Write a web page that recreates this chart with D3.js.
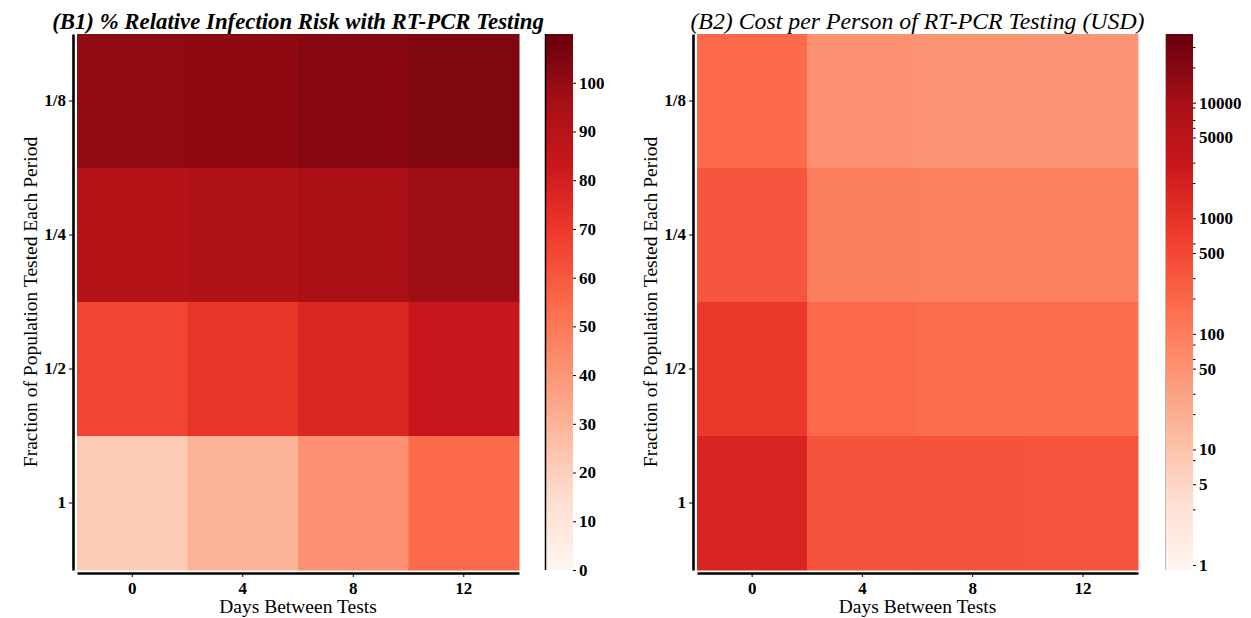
<!DOCTYPE html>
<html><head><meta charset="utf-8">
<script src="https://cdn.jsdelivr.net/npm/d3@7"></script>
<style>body{margin:0;background:#fff}svg{display:block}</style>
</head><body><svg id="c" width="1251" height="618"></svg>
<script>
const days = [0, 4, 8, 12];
const fractions = ["1/8", "1/4", "1/2", "1"];
// % relative infection risk, rows = fractions, cols = days
const risk_1_8 = [100.9, 101.3, 102.6, 104.5];
const risk_1_4 = [90.8, 92.3, 94.5, 97.6];
const risk_1_2 = [66, 71.4, 76.8, 83.6];
const risk_1 = [22, 30, 42, 55];
// cost per person (USD)
const cost_1_8 = [188, 50, 47, 45];
const cost_1_4 = [330, 97, 95, 93];
const cost_1_2 = [800, 193, 170, 170];
const cost_1 = [1750, 361, 350, 340];
const riskTicks = [0, 10, 20, 30, 40, 50, 60, 70, 80, 90, 100];
const costTicks = [1, 5, 10, 50, 100, 500, 1000, 5000, 10000];
const costMinor = [3, 8, 20, 30, 60, 80, 200, 300, 600, 2000, 3000, 6000, 7000, 9000, 20000, 30000];
const riskDomain = [0, 110];
const costDomain = [0.905, 39300];

const redsColors = ["#fff5f0","#fee0d2","#fcbba1","#fc9272","#fb6a4a","#ef3b2c","#cb181d","#a50f15","#67000d"];
const reds = d3.scaleLinear().domain(d3.range(9).map(i => i / 8)).range(redsColors).interpolate(d3.interpolateRgb).clamp(true);

const svg = d3.select("#c");
const serif = "'Liberation Serif','Times New Roman',serif";

const defs = svg.append("defs");
const grad = defs.append("linearGradient").attr("id", "redsGrad").attr("x1", 0).attr("y1", 1).attr("x2", 0).attr("y2", 0);
redsColors.forEach((c, i) => grad.append("stop").attr("offset", i / 8).attr("stop-color", c));

function panel(o) {
  const g = svg.append("g");
  const x = d3.scaleBand().domain(days).range([o.x0, o.x1]);
  const y = d3.scaleBand().domain(fractions).range([34, 570]);
  const color = v => reds(o.norm(v));
  const cells = [];
  o.rows.forEach((row, r) => row.forEach((v, c) => cells.push({ f: fractions[r], d: days[c], v })));
  g.selectAll("rect.cell").data(cells).join("rect").attr("class", "cell")
    .attr("x", d => x(d.d)).attr("y", d => y(d.f))
    .attr("width", x.bandwidth() + 0.5).attr("height", y.bandwidth() + 0.5)
    .attr("fill", d => color(d.v));

  const ya = g.append("g").attr("transform", `translate(${o.x0 - 4},0)`)
    .call(d3.axisLeft(y).tickSize(4).tickPadding(3).tickSizeOuter(0));
  const xa = g.append("g").attr("transform", `translate(0,573)`)
    .call(d3.axisBottom(x).tickSize(4).tickPadding(5).tickSizeOuter(0));
  [ya, xa].forEach(a => {
    a.select(".domain").attr("stroke-width", 2.6).attr("stroke", "#000");
    a.selectAll(".tick line").attr("stroke-width", 1);
    a.selectAll("text").attr("font-family", serif).attr("font-weight", "bold").attr("font-size", 17).attr("fill", "#000");
  });

  g.append("text").attr("x", (o.x0 + o.x1) / 2).attr("y", 613).attr("text-anchor", "middle")
    .attr("font-family", serif).attr("font-size", 19.5).text("Days Between Tests");
  g.append("text").attr("transform", `translate(${o.ylabX},302) rotate(-90)`).attr("dy", "0.35em")
    .attr("text-anchor", "middle").attr("font-family", serif).attr("font-size", 19.5)
    .text("Fraction of Population Tested Each Period");
  g.append("text").attr("x", (o.x0 + o.x1) / 2).attr("y", 29).attr("text-anchor", "middle")
    .attr("font-family", serif).attr("font-style", "italic").attr("font-weight", o.titleWeight)
    .attr("font-size", o.titleSize).text(o.title);

  g.append("rect").attr("x", o.cbx).attr("y", 34).attr("width", 28).attr("height", 536).attr("fill", "url(#redsGrad)");
  g.append("line").attr("x1", o.cbx + 0.5).attr("x2", o.cbx + 0.5).attr("y1", 34).attr("y2", 570)
    .attr("stroke", o.cbLine).attr("stroke-width", o.cbLineW);
  const cs = o.cbScale.range([570, 34]);
  const ca = g.append("g").attr("transform", `translate(${o.cbx + 28},0)`)
    .call(d3.axisRight(cs).tickValues(o.ticks).tickFormat(d3.format("d")).tickSize(3).tickPadding(3));
  ca.select(".domain").remove();
  ca.selectAll("text").attr("font-family", serif).attr("font-weight", "bold").attr("font-size", 17).attr("fill", "#000");
  if (o.minor) {
    g.selectAll("line.minor").data(o.minor).join("line").attr("class", "minor")
      .attr("x1", o.cbx + 28).attr("x2", o.cbx + 30.5)
      .attr("y1", d => cs(d)).attr("y2", d => cs(d)).attr("stroke", "#000").attr("stroke-width", 1);
  }
}

const riskScale = d3.scaleLinear().domain(riskDomain);
panel({
  x0: 77, x1: 519, ylabX: 30, cbx: 545,
  rows: [risk_1_8, risk_1_4, risk_1_2, risk_1],
  norm: v => (v - riskDomain[0]) / (riskDomain[1] - riskDomain[0]),
  title: "(B1) % Relative Infection Risk with RT-PCR Testing", titleWeight: "bold", titleSize: 22.8,
  cbScale: riskScale, ticks: riskTicks, cbLine: "#000", cbLineW: 1.5
});
const costLog = d3.scaleLog().domain(costDomain).range([0, 1]);
panel({
  x0: 697, x1: 1138, ylabX: 650, cbx: 1165,
  rows: [cost_1_8, cost_1_4, cost_1_2, cost_1],
  norm: v => costLog(v),
  title: "(B2) Cost per Person of RT-PCR Testing (USD)", titleWeight: "normal", titleSize: 23.8,
  cbScale: d3.scaleLog().domain(costDomain), ticks: costTicks, minor: costMinor, cbLine: "#bbb", cbLineW: 1
});
</script></body></html>
